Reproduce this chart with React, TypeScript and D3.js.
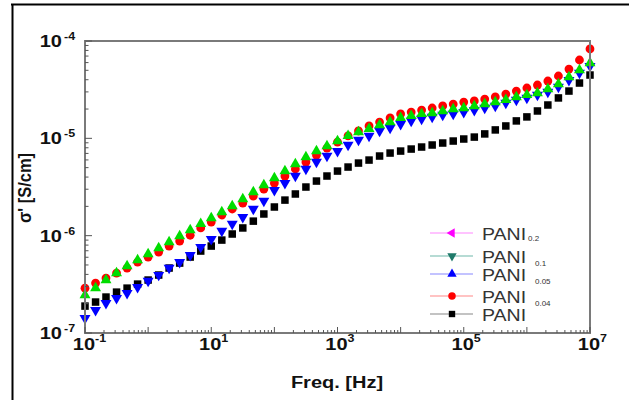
import React from "react";
import * as d3 from "d3";

const freq = [
  0.1, 0.147, 0.215, 0.316, 0.464, 0.681,
  1, 1.47, 2.15, 3.16, 4.64, 6.81,
  10, 14.7, 21.5, 31.6, 46.4, 68.1,
  100, 147, 215, 316, 464, 681,
  1e3, 1.47e3, 2.15e3, 3.16e3, 4.64e3, 6.81e3,
  1e4, 1.47e4, 2.15e4, 3.16e4, 4.64e4, 6.81e4,
  1e5, 1.47e5, 2.15e5, 3.16e5, 4.64e5, 6.81e5,
  1e6, 1.47e6, 2.15e6, 3.16e6, 4.64e6, 6.81e6,
  1e7,
];

const pani004 = [
  2.89e-7, 3.26e-7, 3.67e-7, 4.13e-7, 4.65e-7, 5.35e-7,
  6.03e-7, 6.78e-7, 7.82e-7, 8.8e-7, 1.01e-6, 1.2e-6,
  1.38e-6, 1.63e-6, 1.88e-6, 2.16e-6, 2.55e-6, 3.01e-6,
  3.47e-6, 4.1e-6, 4.84e-6, 5.71e-6, 6.73e-6, 7.95e-6,
  9.16e-6, 1.06e-5, 1.19e-5, 1.34e-5, 1.47e-5, 1.62e-5,
  1.78e-5, 1.86e-5, 1.95e-5, 2.05e-5, 2.15e-5, 2.25e-5,
  2.36e-5, 2.42e-5, 2.53e-5, 2.66e-5, 2.85e-5, 3.06e-5,
  3.29e-5, 3.53e-5, 3.88e-5, 4.37e-5, 5.15e-5, 6.38e-5,
  8.28e-5,
];

const pani01 = [
  2.45e-7, 2.89e-7, 3.5e-7, 4.13e-7, 4.87e-7, 5.61e-7,
  6.47e-7, 7.46e-7, 8.59e-7, 9.91e-7, 1.14e-6, 1.32e-6,
  1.52e-6, 1.75e-6, 2.01e-6, 2.38e-6, 2.81e-6, 3.31e-6,
  3.91e-6, 4.61e-6, 5.44e-6, 6.42e-6, 7.4e-6, 8.34e-6,
  9.38e-6, 1.06e-5, 1.16e-5, 1.25e-5, 1.37e-5, 1.47e-5,
  1.62e-5, 1.7e-5, 1.78e-5, 1.82e-5, 1.91e-5, 2.0e-5,
  2.05e-5, 2.15e-5, 2.25e-5, 2.36e-5, 2.48e-5, 2.66e-5,
  2.79e-5, 2.92e-5, 3.21e-5, 3.61e-5, 4.27e-5, 5.04e-5,
  5.94e-5,
];

const pani005 = [
  1.42e-7, 1.72e-7, 2.03e-7, 2.28e-7, 2.57e-7, 2.96e-7,
  3.42e-7, 3.94e-7, 4.65e-7, 5.35e-7, 6.32e-7, 7.64e-7,
  9.23e-7, 1.12e-6, 1.32e-6, 1.55e-6, 1.88e-6, 2.27e-6,
  2.94e-6, 3.47e-6, 4.1e-6, 4.84e-6, 5.71e-6, 6.58e-6,
  7.4e-6, 8.54e-6, 9.61e-6, 1.06e-5, 1.19e-5, 1.28e-5,
  1.4e-5, 1.51e-5, 1.58e-5, 1.66e-5, 1.74e-5, 1.78e-5,
  1.86e-5, 1.95e-5, 2.05e-5, 2.15e-5, 2.31e-5, 2.48e-5,
  2.6e-5, 2.79e-5, 2.99e-5, 3.37e-5, 3.97e-5, 4.69e-5,
  5.53e-5,
];

const pani = [
  1.89e-7, 2.08e-7, 2.34e-7, 2.63e-7, 2.89e-7, 3.18e-7,
  3.5e-7, 3.94e-7, 4.65e-7, 5.23e-7, 6.03e-7, 6.95e-7,
  7.82e-7, 9.01e-7, 1.04e-6, 1.2e-6, 1.41e-6, 1.67e-6,
  1.97e-6, 2.32e-6, 2.68e-6, 3.16e-6, 3.64e-6, 4.1e-6,
  4.61e-6, 5.07e-6, 5.57e-6, 5.98e-6, 6.58e-6, 7.06e-6,
  7.4e-6, 7.76e-6, 8.14e-6, 8.54e-6, 8.95e-6, 9.38e-6,
  9.84e-6, 1.03e-5, 1.11e-5, 1.22e-5, 1.34e-5, 1.51e-5,
  1.66e-5, 1.91e-5, 2.2e-5, 2.6e-5, 3.06e-5, 3.7e-5,
  4.47e-5,
];

const xTickExps = [-1, 1, 3, 5, 7];
const yTickExps = [-7, -6, -5, -4];

const legendNames = ["PANI", "PANI", "PANI", "PANI", "PANI"];
const legendSubs = ["0.2", "0.1", "0.05", "0.04", ""];

const W = 629;
const H = 400;
const L = 85, R = 590, T = 41, B = 333;

const x = d3.scaleLog().domain([0.1, 1e7]).range([L, R]);
const y = d3.scaleLog().domain([1e-7, 1e-4]).range([B, T]);

const sym = (type: d3.SymbolType, size: number) => d3.symbol().type(type).size(size)() as string;

const series = [
  { data: pani, color: "#000000", shape: "square" },
  { data: pani004, color: "#ff0000", shape: "circle" },
  { data: pani005, color: "#0000ff", shape: "down" },
  { data: pani01, color: "#00dd00", shape: "up" },
];

function Marker({ shape, color, cx, cy, s = 1 }: any) {
  if (shape === "square") {
    const a = 7.5 * s;
    return <rect x={cx - a / 2} y={cy - a / 2} width={a} height={a} fill={color} />;
  }
  if (shape === "circle") {
    return <circle cx={cx} cy={cy} r={4.4 * s} fill={color} />;
  }
  const d = sym(d3.symbolTriangle, 52 * s * s);
  const rot = shape === "down" ? 180 : shape === "left" ? -90 : 0;
  return <path d={d} transform={`translate(${cx},${cy}) rotate(${rot})`} fill={color} />;
}

const STRETCH = 1.25;

function SText({ x: tx, y: ty, children, anchor = "start", size, weight = "bold", fill = "#111" }: any) {
  return (
    <text
      transform={`translate(${tx},${ty}) scale(${STRETCH},1)`}
      textAnchor={anchor}
      fontFamily="Liberation Sans, Arial, sans-serif"
      fontSize={size}
      fontWeight={weight}
      fill={fill}
    >
      {children}
    </text>
  );
}

export default function App() {
  const majorX = d3.range(-1, 8).map((e) => Math.pow(10, e));
  const minorX: number[] = [];
  for (let e = -1; e < 7; e++) for (let m = 2; m < 10; m++) minorX.push(m * Math.pow(10, e));
  const majorY = d3.range(-7, -3).map((e) => Math.pow(10, e));
  const minorY: number[] = [];
  for (let e = -7; e < -4 + 0; e++) for (let m = 2; m < 10; m++) minorY.push(m * Math.pow(10, e));

  const legendRows = [233, 256, 274, 296, 314];
  const legendItems = [
    { shape: "left", marker: "#ff00ff", line: "#ff88ff" },
    { shape: "down", marker: "#1f7a6a", line: "#6fb8aa" },
    { shape: "up", marker: "#0000ff", line: "#8888ff" },
    { shape: "circle", marker: "#ff0000", line: "#ff8888" },
    { shape: "square", marker: "#000000", line: "#888888" },
  ];

  return (
    <svg
      width={W}
      height={H}
      style={{ position: "absolute", left: 0, top: 0, background: "#fff" }}
    >
      <rect x={0} y={0} width={W} height={H} fill="#fff" />
      {/* outer frame */}
      <line x1={11} y1={4.5} x2={W} y2={4.5} stroke="#000" strokeWidth={2} />
      <line x1={12.5} y1={4} x2={12.5} y2={H} stroke="#000" strokeWidth={2} />

      {/* data */}
      <g clipPath="url(#clip)">
        {series.map((s, si) => (
          <g key={si}>
            {s.data.map((v, i) => (
              <Marker key={i} shape={s.shape} color={s.color} cx={x(freq[i])} cy={y(v)} />
            ))}
          </g>
        ))}
      </g>
      <defs>
        <clipPath id="clip">
          <rect x={L - 6} y={T - 6} width={R - L + 12} height={B - T + 12} />
        </clipPath>
      </defs>

      {/* plot frame */}
      <rect x={L} y={T} width={R - L} height={B - T} fill="none" stroke="#7a7a7a" strokeWidth={2} />

      {/* ticks */}
      {majorX.map((v, i) => (
        <line key={"mx" + i} x1={x(v)} x2={x(v)} y1={B} y2={B - 6} stroke="#555" strokeWidth={1} />
      ))}
      {minorX.map((v, i) => (
        <line key={"nx" + i} x1={x(v)} x2={x(v)} y1={B} y2={B - 3} stroke="#555" strokeWidth={1} />
      ))}
      {majorY.map((v, i) => (
        <line key={"my" + i} x1={L} x2={L + 7} y1={y(v)} y2={y(v)} stroke="#555" strokeWidth={1} />
      ))}
      {minorY.map((v, i) => (
        <line key={"ny" + i} x1={L} x2={L + 3.5} y1={y(v)} y2={y(v)} stroke="#555" strokeWidth={1} />
      ))}

      {/* x tick labels */}
      {xTickExps.map((e) => (
        <g key={"xl" + e}>
          <SText x={x(Math.pow(10, e)) - 1} y={350} anchor="middle" size={16}>10</SText>
          <SText x={x(Math.pow(10, e)) + 10} y={342} anchor="start" size={10}>{String(e).replace("-", "-")}</SText>
        </g>
      ))}

      {/* y tick labels */}
      {yTickExps.map((e) => (
        <g key={"yl" + e}>
          <SText x={62} y={y(Math.pow(10, e)) + 6} anchor="end" size={16}>10</SText>
          <SText x={64} y={y(Math.pow(10, e)) - 1} anchor="start" size={10}>{String(e)}</SText>
        </g>
      ))}

      {/* axis titles */}
      <SText x={337} y={388} anchor="middle" size={16}>Freq. [Hz]</SText>
      <text
        transform={`translate(31,188) rotate(-90) scale(1.1,1.2)`}
        textAnchor="middle"
        fontFamily="Liberation Sans, Arial, sans-serif"
        fontSize={15}
        fontWeight="bold"
        fill="#111"
      >
        σ' [S/cm]
      </text>

      {/* legend */}
      {legendItems.map((it, i) => (
        <g key={"lg" + i}>
          <line x1={430} x2={473} y1={legendRows[i]} y2={legendRows[i]} stroke={it.line} strokeWidth={1.2} />
          <Marker shape={it.shape} color={it.marker} cx={452} cy={legendRows[i]} s={0.85} />
          <text
            transform={`translate(482,${legendRows[i] + 7}) scale(1.15,1)`}
            fontFamily="Liberation Sans, Arial, sans-serif"
            fontSize={17}
            fill="#333"
          >
            {legendNames[i]}
          </text>
          {legendSubs[i] && (
            <text
              x={i === 0 ? 528 : 535}
              y={legendRows[i] + (i === 0 ? 8 : 10)}
              fontFamily="Liberation Sans, Arial, sans-serif"
              fontSize={8}
              fill="#333"
            >
              {legendSubs[i]}
            </text>
          )}
        </g>
      ))}
    </svg>
  );
}
